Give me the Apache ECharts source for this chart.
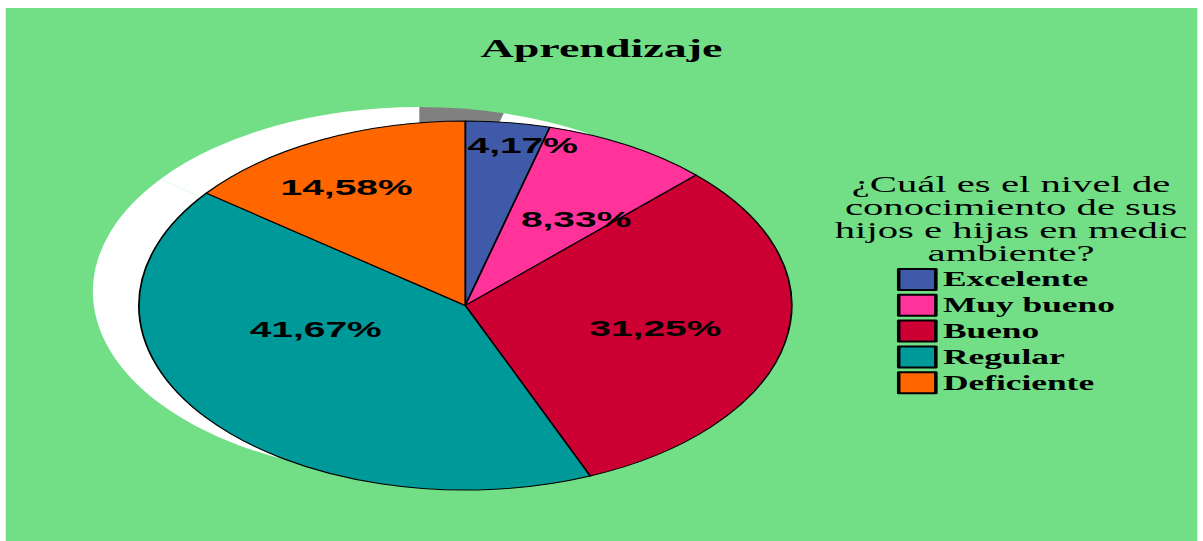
<!DOCTYPE html>
<html>
<head>
<meta charset="utf-8">
<script src="https://cdn.jsdelivr.net/npm/echarts@6/dist/echarts.min.js"></script>
<style>
  html, body { margin: 0; padding: 0; background: #fff; overflow: hidden; }
  /* the reference is stretched sideways, so draw narrow and widen it */
  #wrap { position: absolute; left: 0; top: 0; width: 680px; height: 541px;
          transform-origin: 0 0; transform: scaleX(1.7691); }
  #chart { position: absolute; left: 3.4px; top: 8px; width: 674.4px; height: 533px; }
</style>
</head>
<body>
<div id="wrap"><div id="chart"></div></div>
<script>
const categories = ['Excelente', 'Muy bueno', 'Bueno', 'Regular', 'Deficiente'];
const percents = [4.17, 8.33, 31.25, 41.67, 14.58];
const colors = ['#3F5AA8', '#FF3399', '#CC0033', '#009999', '#FF6600'];
const shadowColors = ['#808080', '#ffffff', '#ffffff', '#ffffff', '#ffffff'];
const chartTitle = 'Aprendizaje';
const legendTitle = '¿Cuál es el nivel de\nconocimiento de sus\nhijos e hijas en medic\nambiente?';

// hand placement of the slice labels, as in the original
const labelShift = [[20, -66], [15, -4], [14, 4], [-9, -34], [-25, -33]];

const chart = echarts.init(document.getElementById('chart'), null, { renderer: 'svg' });

chart.setOption({
  backgroundColor: '#72DF87',
  animation: false,
  title: [{
    text: chartTitle,
    left: 'center',
    top: 22,
    textStyle: { fontFamily: 'Liberation Serif', fontWeight: 'bold', fontSize: 26, color: '#000' }
  }, {
    text: legendTitle,
    left: 563.5,
    top: 160,
    textAlign: 'center',
    textStyle: { fontFamily: 'Liberation Serif', fontWeight: 'normal', fontSize: 23,
                 lineHeight: 23, color: '#000' }
  }],
  legend: {
    data: categories,
    orient: 'vertical',
    left: 504,
    top: 260,
    padding: 0,
    itemWidth: 21,
    itemHeight: 21,
    itemGap: 2.8,
    icon: 'rect',
    selectedMode: false,
    textStyle: { fontFamily: 'Liberation Serif', fontWeight: 'bold', fontSize: 20, color: '#000', padding: [0, 0, 0, -1] }
  },
  series: [{
    type: 'pie',
    z: 3,
    center: [260, 297.5],
    radius: 184.5,
    startAngle: 90,
    clockwise: true,
    data: categories.map((c, i) => ({ name: c, value: percents[i], itemStyle: { color: colors[i] } })),
    itemStyle: { borderColor: '#000', borderWidth: 1 },
    label: {
      show: true,
      position: 'inside',
      formatter: p => p.value.toFixed(2).replace('.', ',') + '%',
      fontFamily: 'Liberation Sans',
      fontWeight: 'bold',
      fontSize: 22,
      color: '#000'
    },
    labelLayout: p => ({ dx: labelShift[p.dataIndex][0], dy: labelShift[p.dataIndex][1] }),
    emphasis: { disabled: true }
  }, {
    type: 'pie',
    z: 1,
    silent: true,
    center: [234, 283.5],
    radius: 184.5,
    startAngle: 90,
    clockwise: true,
    data: categories.map((c, i) => ({ name: 'sombra ' + c, value: percents[i], itemStyle: { color: shadowColors[i] } })),
    label: { show: false },
    labelLine: { show: false },
    emphasis: { disabled: true }
  }]
});
</script>
</body>
</html>
